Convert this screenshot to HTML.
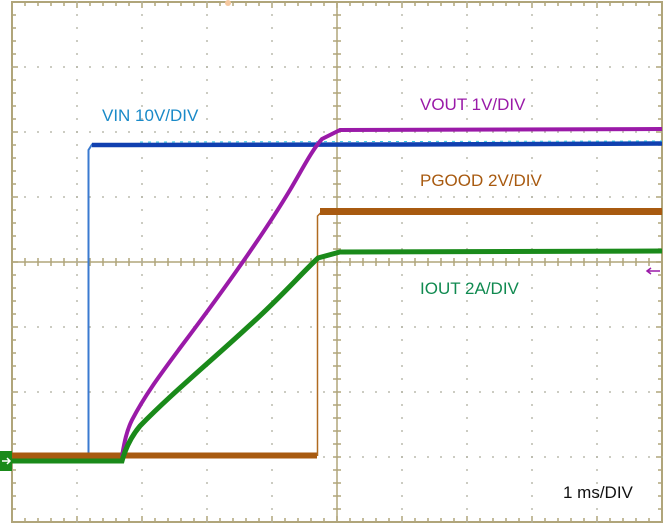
<!DOCTYPE html>
<html><head><style>
html,body{margin:0;padding:0;background:#fff;}
svg{display:block;}
text{font-family:"Liberation Sans",sans-serif;font-size:17px;}
</style></head><body>
<svg width="664" height="525" viewBox="0 0 664 525" xmlns="http://www.w3.org/2000/svg">
<g id="grid"></g>
<circle cx="228" cy="3" r="3" fill="#f5c8a0"/>
<!-- VIN -->
<path d="M88.5,456 L88.5,150 L92,144.5 L400,144 L662,143" fill="none" stroke="#3a7ad0" stroke-width="2"/>
<path d="M92,145 L400,144.5 L662,143.5" fill="none" stroke="#1040b0" stroke-width="4.5"/>
<path d="M140,142 L662,141" fill="none" stroke="#38c8e0" stroke-width="1" stroke-dasharray="3,5"/>
<!-- PGOOD -->
<path d="M12,455.5 L317,455.5" stroke="#a85a10" stroke-width="6" fill="none"/>
<path d="M317.5,456 L317.5,216 L322,211.5" stroke="#b06a20" stroke-width="1.5" fill="none"/>
<path d="M320,211.5 L662,211.5" stroke="#a85a10" stroke-width="7" fill="none"/>
<!-- VOUT -->
<path d="M122,456 C124,445 126,432 132,420 C145,395 160,375 180,348 C220,295 260,240 290,190 C303,168 312,150 322,139 L340,130 L662,129" fill="none" stroke="#9a1aa8" stroke-width="4"/>
<!-- IOUT -->
<path d="M12,461 L122,461 C125,450 130,438 140,426 C170,395 210,362 250,325 C280,298 300,275 318,258 L340,252 L662,251" fill="none" stroke="#1a8a1a" stroke-width="5"/>
<!-- ground marker -->
<rect x="0" y="451" width="12" height="20" fill="#1a8a1a"/>
<path d="M2,461 L10,461 M7,458 L10,461 L7,464" stroke="#fff" stroke-width="1.5" fill="none"/>
<!-- right arrow -->
<path d="M660,271 L647,271 M651,268 L647,271 L651,274" stroke="#9a1aa8" stroke-width="1.5" fill="none"/>
<text x="102" y="121" fill="#1a8ac8">VIN 10V/DIV</text>
<text x="420" y="110" fill="#9a1aa8">VOUT 1V/DIV</text>
<text x="420" y="186" fill="#a85a10">PGOOD 2V/DIV</text>
<text x="420" y="294" fill="#108a50">IOUT 2A/DIV</text>
<text x="563" y="498" fill="#111" font-size="16">1 ms/DIV</text>
</svg>
<script>
(function(){
var g=document.getElementById('grid'),s='';
var X0=12,Y0=2,D=65,col='#b0a57a';
s+='<rect x="12" y="2" width="650" height="520" fill="none" stroke="'+col+'" stroke-width="2"/>';
s+='<line x1="337" y1="2" x2="337" y2="522" stroke="'+col+'" stroke-width="1.5"/>';
s+='<line x1="12" y1="262" x2="662" y2="262" stroke="'+col+'" stroke-width="1.5"/>';
for(var i=0;i<=50;i++){var x=X0+i*13;
 var L=(i%5==0)?6:4;
 s+='<line x1="'+x+'" y1="2" x2="'+x+'" y2="'+(2+L)+'" stroke="'+col+'" stroke-width="1.5"/>';
 s+='<line x1="'+x+'" y1="522" x2="'+x+'" y2="'+(522-L)+'" stroke="'+col+'" stroke-width="1.5"/>';
 s+='<line x1="'+x+'" y1="258" x2="'+x+'" y2="266" stroke="'+col+'" stroke-width="1.5"/>';
 for(var k=1;k<8;k++){ if(k==4)continue; s+='<rect x="'+(x-0.8)+'" y="'+(Y0+k*D-0.8)+'" width="1.6" height="1.6" fill="#b0b0a0"/>';}
}
for(var j=0;j<=40;j++){var y=Y0+j*13;
 var L=(j%5==0)?6:4;
 s+='<line x1="12" y1="'+y+'" x2="'+(12+L)+'" y2="'+y+'" stroke="'+col+'" stroke-width="1.5"/>';
 s+='<line x1="662" y1="'+y+'" x2="'+(662-L)+'" y2="'+y+'" stroke="'+col+'" stroke-width="1.5"/>';
 s+='<line x1="333" y1="'+y+'" x2="341" y2="'+y+'" stroke="'+col+'" stroke-width="1.5"/>';
 for(var k=1;k<10;k++){ if(k==5)continue; s+='<rect x="'+(X0+k*D-0.8)+'" y="'+(y-0.8)+'" width="1.6" height="1.6" fill="#b0b0a0"/>';}
}
g.innerHTML=s;
})();
</script>
</body></html>
